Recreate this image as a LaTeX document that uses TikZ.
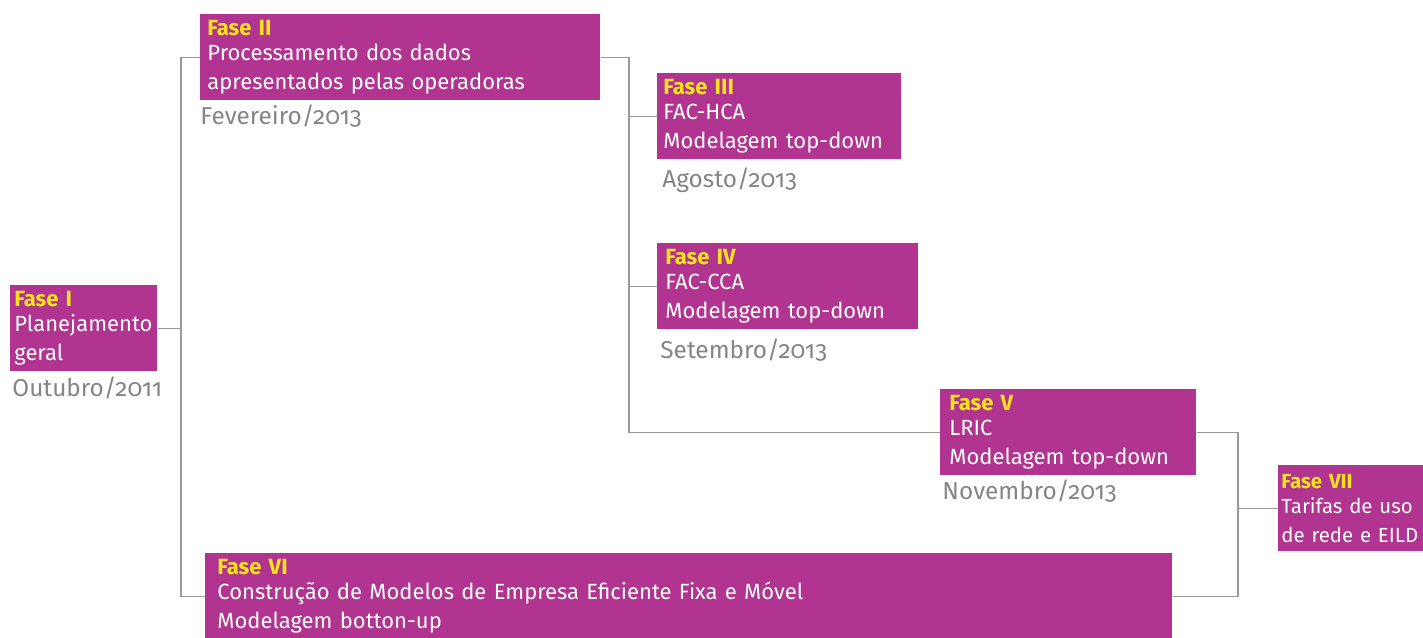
\documentclass[tikz,border=0pt]{standalone}
\usepackage{fontspec}
\setmainfont{Fira Sans}[Numbers=OldStyle]
\usetikzlibrary{positioning}
\definecolor{fasepurple}{HTML}{B03490}
\definecolor{faseyellow}{HTML}{F7E21B}
\definecolor{dategray}{HTML}{858585}
\definecolor{linegray}{HTML}{9A9A9A}
\newcommand{\fasetitle}[1]{{\color{faseyellow}\bfseries #1}\\[-2pt]}
\tikzset{
  fase/.style={fill=fasepurple, text=white, anchor=north west, align=left,
    minimum height=43pt, inner ysep=0pt, font=\fontsize{11}{14.5}\selectfont},
  fasedate/.style={text=dategray, inner sep=0pt, font=\fontsize{12.2}{14}\selectfont},
  link/.style={draw=linegray, line width=0.7pt},
}
\begin{document}
\begin{tikzpicture}[x=0.5pt,y=-0.5pt]
  \useasboundingbox (0,0) rectangle (1423,637);
  \clip (0,0) rectangle (1423,637);

  \node[fase, inner xsep=2pt, text width=69.5pt] (p1) at (10,285) {\fasetitle{Fase I}Planejamento\\geral};
  \node[fase, inner xsep=3.5pt, text width=193pt] (p2) at (200,14) {\fasetitle{Fase II}Processamento dos dados\\apresentados pelas operadoras};
  \node[fase, inner xsep=3pt, text width=116pt] (p3) at (657,73) {\fasetitle{Fase III}FAC-HCA\\Modelagem top-down};
  \node[fase, inner xsep=4pt, text width=122.5pt] (p4) at (657,243) {\fasetitle{Fase IV}FAC-CCA\\Modelagem top-down};
  \node[fase, inner xsep=4.5pt, text width=119pt] (p5) at (940,389) {\fasetitle{Fase V}LRIC\\Modelagem top-down};
  \node[fase, inner xsep=6pt, text width=471.5pt] (p6) at (205,553) {\fasetitle{Fase VI}Construção de Modelos de Empresa Eficiente Fixa e Móvel\\Modelagem botton-up};
  \node[fase, inner xsep=1.5pt, text width=82pt, font=\fontsize{10.2}{14.5}\selectfont] (p7) at (1278,465) {\fasetitle{Fase VII}Tarifas de uso\\de rede e EILD};

  \node[fasedate, below right=2.5pt and 1pt of p1.south west] (d1) {Outubro/2011};
  \node[fasedate, below right=2pt and 0pt of p2.south west] (d2) {Fevereiro/2013};
  \node[fasedate, below right=4pt and 2.5pt of p3.south west] (d3) {Agosto/2013};
  \node[fasedate, below right=4.5pt and 1.5pt of p4.south west] (d4) {Setembro/2013};
  \node[fasedate, below right=2pt and 1pt of p5.south west] (d5) {Novembro/2013};

  \coordinate[right=11.5pt of p1.east] (b1);
  \coordinate[right=14pt of p2.east] (b2);
  \coordinate[right=20.5pt of p5.east] (b3);
  \draw[link] (p1.east) -- (b1) |- (p2.west);
  \draw[link] (b1) |- (p6.west);
  \draw[link] (p2.east) -- (b2) |- (p5.west);
  \draw[link] (b2) |- (p3.west);
  \draw[link] (b2) |- (p4.west);
  \draw[link] (p5.east) -- (b3) |- (p6.east);
  \draw[link] (b3 |- p7.west) -- (p7.west);
\end{tikzpicture}
\end{document}
